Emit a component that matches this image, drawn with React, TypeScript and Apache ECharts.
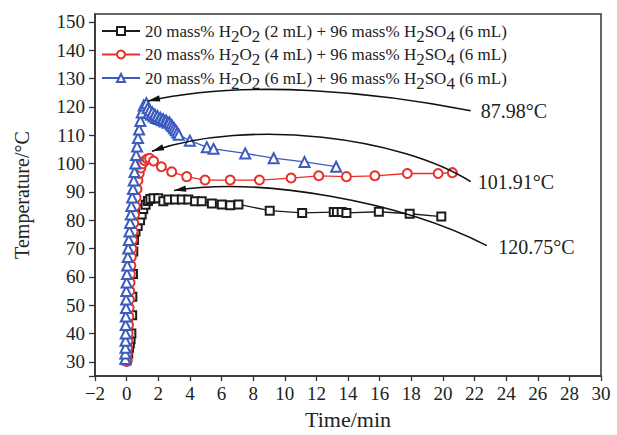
import React, { useEffect, useRef } from "react";
import * as echarts from "echarts";

// ---- data ----
const seriesNames = [
  "20 mass% H2O2 (2 mL) + 96 mass% H2SO4 (6 mL)",
  "20 mass% H2O2 (4 mL) + 96 mass% H2SO4 (6 mL)",
  "20 mass% H2O2 (6 mL) + 96 mass% H2SO4 (6 mL)",
];
const legendRichText = [
  "20 mass% H{s|2}O{s|2} (2 mL) + 96 mass% H{s|2}SO{s|4} (6 mL)",
  "20 mass% H{s|2}O{s|2} (4 mL) + 96 mass% H{s|2}SO{s|4} (6 mL)",
  "20 mass% H{s|2}O{s|2} (6 mL) + 96 mass% H{s|2}SO{s|4} (6 mL)",
];

const xTicks = [-2, 0, 2, 4, 6, 8, 10, 12, 14, 16, 18, 20, 22, 24, 26, 28, 30];
const yTicks = [30, 40, 50, 60, 70, 80, 90, 100, 110, 120, 130, 140, 150];

const black2mL: number[][] = [
  [0, 30.5], [0.05, 31.5], [0.1, 33], [0.15, 35], [0.2, 36.5], [0.25, 38], [0.3, 40],
  [0.35, 46.5], [0.36, 53], [0.4, 61], [0.42, 69], [0.47, 73], [0.56, 76], [0.7, 78],
  [0.85, 80], [0.95, 82], [1.05, 84], [1.2, 85.5], [1.35, 86.8], [1.5, 87.5], [1.7, 87.8],
  [2.0, 87.8], [2.32, 86.7], [2.64, 87.3], [3.06, 87.3], [3.49, 87.3], [3.9, 87.3],
  [4.33, 86.7], [4.75, 86.7], [5.39, 85.9], [6.02, 85.6], [6.55, 85.3], [7.07, 85.6],
  [9.05, 83.4], [11.1, 82.6], [13.1, 82.9], [13.3, 82.9], [13.6, 82.9], [13.9, 82.6],
  [15.95, 83.0], [17.9, 82.3], [19.9, 81.3],
];

const red4mL: number[][] = [
  [0, 30.2], [0.02, 31.5], [0.04, 33], [0.06, 35], [0.08, 37.5], [0.1, 40], [0.12, 43],
  [0.14, 46], [0.16, 49], [0.18, 52], [0.2, 55], [0.22, 58], [0.24, 61], [0.27, 64],
  [0.3, 67], [0.33, 70], [0.37, 73], [0.41, 76], [0.45, 79], [0.5, 82], [0.55, 85],
  [0.6, 88], [0.66, 91], [0.72, 94], [0.8, 96.5], [0.9, 98.5], [1.02, 100], [1.15, 101],
  [1.3, 101.6], [1.45, 101.9], [1.7, 100.9], [2.2, 98.9], [2.85, 97.1], [3.8, 95.4],
  [4.96, 94.2], [6.55, 94.2], [8.4, 94.2], [10.4, 94.9], [12.15, 95.7], [13.9, 95.4],
  [15.7, 95.7], [17.75, 96.5], [19.7, 96.5], [20.6, 96.8],
];

const blue6mL: number[][] = [
  [-0.08, 31], [-0.08, 33], [-0.07, 35], [-0.07, 37.5], [-0.06, 40], [-0.06, 43],
  [-0.05, 46], [-0.04, 49], [-0.03, 52], [-0.02, 55], [0, 58], [0.02, 61], [0.04, 64],
  [0.07, 67], [0.1, 70], [0.14, 73], [0.18, 76], [0.22, 79], [0.26, 82], [0.3, 85],
  [0.35, 88], [0.4, 91], [0.45, 94], [0.5, 97], [0.55, 100], [0.6, 103], [0.66, 106],
  [0.72, 109], [0.79, 112], [0.87, 115], [0.96, 118], [1.08, 120.5], [1.25, 121.3],
  [1.33, 119.5], [1.4, 117.8], [1.47, 118.8], [1.55, 117.2], [1.63, 118], [1.71, 116.6],
  [1.79, 117.3], [1.87, 116.1], [1.95, 116.8], [2.04, 115.7], [2.13, 116.2], [2.22, 115.3],
  [2.31, 115.7], [2.4, 114.9], [2.5, 115.2], [2.6, 114.4], [2.7, 114.6], [2.8, 113.8],
  [2.9, 113.2], [3.0, 112.5], [3.1, 111.8], [3.2, 111], [3.3, 110.2], [4.0, 108.1],
  [5.07, 105.8], [5.5, 105.2], [7.5, 103.6], [9.3, 101.9], [11.25, 100.6], [13.25, 98.9],
];

// annotation arrows (data coordinates): start, control 1, control 2, tip, label anchor
const annotationTexts = ["87.98°C", "101.91°C", "120.75°C"];
const annotationStart = [[21.76, 118.65], [21.76, 93.65], [22.78, 71.06]];
const annotationCtrl1 = [[16.06, 124.9], [17.33, 109.3], [17.33, 86.7]];
const annotationCtrl2 = [[7.82, 130.1], [7.82, 116.2], [8.45, 95.4]];
const annotationTip = [[1.35, 122.1], [1.6, 104.4], [3.0, 90.5]];
const annotationLabel = [[22.4, 118.65], [22.2, 93.6], [23.5, 70.4]];

const colors = ["#1c1c1c", "#e8302a", "#3b5bbf"];
const symbols = ["emptyRect", "emptyCircle", "emptyTriangle"];
const symbolSizes = [8, 9, 10];
const FONT = '"Liberation Serif", "Times New Roman", serif';

export default function App() {
  const ref = useRef<HTMLDivElement>(null);
  useEffect(() => {
    document.body.style.margin = "0";
    if (!ref.current) return;
    const chart = echarts.init(ref.current, undefined, { renderer: "svg" });
    const datasets = [black2mL, red4mL, blue6mL];
    const richMap: Record<string, string> = {};
    seriesNames.forEach((n, i) => (richMap[n] = legendRichText[i]));

    const lineSeries = seriesNames.map((name, i) => ({
      name,
      type: "line",
      data: datasets[i],
      symbol: symbols[i],
      symbolSize: symbolSizes[i],
      color: colors[i],
      lineStyle: { color: colors[i], width: 1.3 },
      itemStyle: { color: colors[i], borderWidth: 1.5 },
      z: 3 + i,
    }));

    const annSeries = {
      type: "custom",
      coordinateSystem: "cartesian2d",
      silent: true,
      clip: false,
      z: 10,
      data: annotationStart.map((p) => [p[0], p[1]]),
      renderItem: (params: any, api: any) => {
        const i = params.dataIndex;
        const p0 = api.coord(annotationStart[i]);
        const p1 = api.coord(annotationCtrl1[i]);
        const p2 = api.coord(annotationCtrl2[i]);
        const p3 = api.coord(annotationTip[i]);
        const lp = api.coord(annotationLabel[i]);
        const dx = p3[0] - p2[0];
        const dy = p3[1] - p2[1];
        const len = Math.hypot(dx, dy) || 1;
        const ux = dx / len;
        const uy = dy / len;
        const L = 12;
        const W = 3.2;
        const bx = p3[0] - ux * L;
        const by = p3[1] - uy * L;
        return {
          type: "group",
          children: [
            {
              type: "bezierCurve",
              shape: {
                x1: p0[0], y1: p0[1], cpx1: p1[0], cpy1: p1[1],
                cpx2: p2[0], cpy2: p2[1], x2: p3[0], y2: p3[1],
              },
              style: { stroke: "#111", lineWidth: 1.6, fill: "none" },
            },
            {
              type: "polygon",
              shape: {
                points: [
                  [p3[0], p3[1]],
                  [bx - uy * W, by + ux * W],
                  [bx + uy * W, by - ux * W],
                ],
              },
              style: { fill: "#111" },
            },
            {
              type: "text",
              x: lp[0],
              y: lp[1],
              style: {
                text: annotationTexts[i],
                fill: "#222",
                fontSize: 20,
                fontFamily: FONT,
                align: "left",
                verticalAlign: "middle",
              },
            },
          ],
        };
      },
    };

    chart.setOption({
      animation: false,
      backgroundColor: "#fff",
      textStyle: { fontFamily: FONT },
      grid: {
        left: 95,
        right: 16,
        top: 14,
        bottom: 52,
        show: true,
        borderColor: "#333",
        borderWidth: 1.5,
        backgroundColor: "transparent",
      },
      legend: {
        data: seriesNames,
        orient: "vertical",
        left: 101,
        top: 22,
        itemWidth: 38,
        itemHeight: 10,
        itemGap: 1,
        padding: 0,
        selectedMode: false,
        formatter: (name: string) => richMap[name] || name,
        textStyle: {
          fontFamily: FONT,
          fontSize: 17,
          lineHeight: 18,
          color: "#222",
          rich: {
            s: {
              fontFamily: FONT,
              fontSize: 17,
              lineHeight: 18,
              height: 8,
              verticalAlign: "bottom",
              color: "#222",
            },
          },
        },
      },
      xAxis: {
        type: "value",
        min: -2,
        max: 30,
        name: "Time/min",
        nameLocation: "middle",
        nameGap: 30,
        nameTextStyle: { fontFamily: FONT, fontSize: 22, color: "#222" },
        axisLine: { show: true, onZero: false, lineStyle: { color: "#333", width: 1.5 } },
        axisTick: { show: true, length: 5, customValues: xTicks, lineStyle: { color: "#333", width: 1.3 } },
        axisLabel: {
          customValues: xTicks,
          margin: 8,
          fontFamily: FONT,
          fontSize: 19,
          color: "#222",
          formatter: (v: number) => (v < 0 ? "\u2212" + Math.abs(v) : String(v)),
        },
        splitLine: { show: false },
      },
      yAxis: {
        type: "value",
        min: 25,
        max: 152.8,
        name: "Temperature/°C",
        nameLocation: "middle",
        nameGap: 63,
        nameTextStyle: { fontFamily: FONT, fontSize: 20, color: "#222" },
        axisLine: { show: true, onZero: false, lineStyle: { color: "#333", width: 1.5 } },
        axisTick: { show: true, length: 6, customValues: [25, ...yTicks], lineStyle: { color: "#333", width: 1.3 } },
        axisLabel: {
          customValues: yTicks,
          margin: 10,
          fontFamily: FONT,
          fontSize: 19,
          color: "#222",
        },
        splitLine: { show: false },
      },
      series: [...lineSeries, annSeries],
    });
    return () => chart.dispose();
  }, []);
  return (
    <div
      ref={ref}
      style={{ position: "fixed", left: 0, top: 0, width: 617, height: 435, background: "#fff" }}
    />
  );
}
